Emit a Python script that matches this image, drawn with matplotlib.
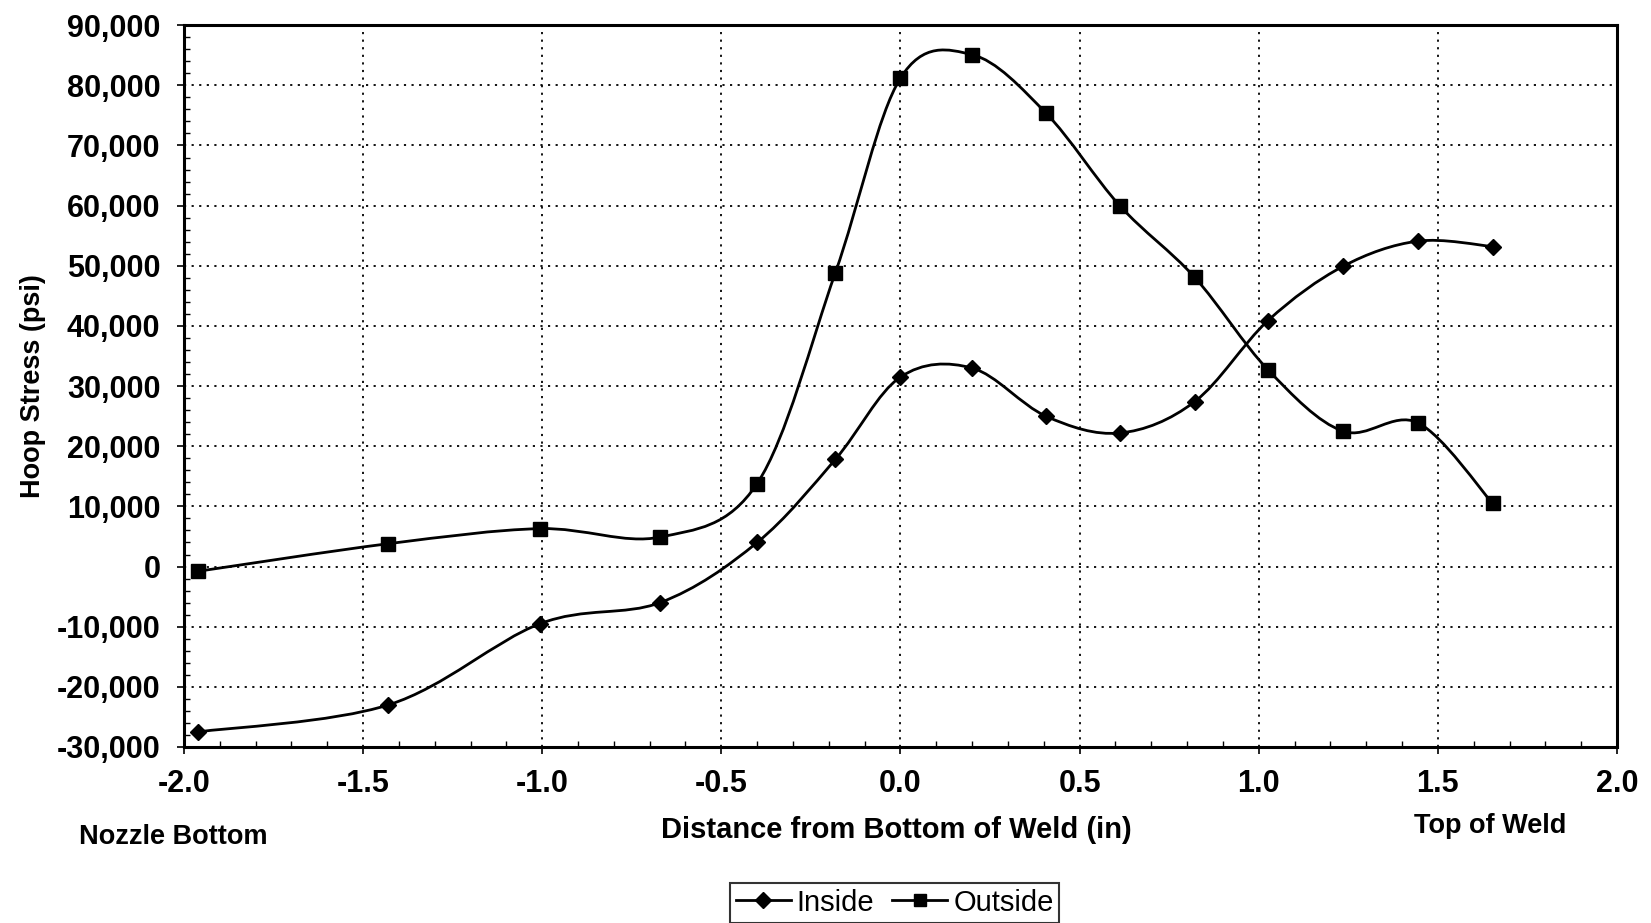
"""
Hoop stress along the weld, inside vs outside surface.
"""

import numpy as np
import matplotlib
matplotlib.use('Agg')
import matplotlib.pyplot as plt
from matplotlib.path import Path
from matplotlib.patches import PathPatch
from matplotlib.lines import Line2D
from matplotlib.ticker import MultipleLocator, FuncFormatter

plt.rcParams['font.family'] = ['Liberation Sans', 'DejaVu Sans']
plt.rcParams['axes.unicode_minus'] = False

# Data
distance = [-1.962, -1.429, -1.006, -0.671, -0.400, -0.182, 0.000, 0.200,
            0.406, 0.612, 0.821, 1.026, 1.235, 1.444, 1.653]
inside = [-27500, -23000, -9500, -6000, 4000, 17800, 31500, 33000,
          25000, 22200, 27400, 40900, 49900, 54100, 53200]
outside = [-800, 3800, 6300, 4900, 13800, 48800, 81200, 85100,
           75400, 60000, 48100, 32700, 22500, 23900, 10500]

x_ticks = [-2.0, -1.5, -1.0, -0.5, 0.0, 0.5, 1.0, 1.5, 2.0]
y_ticks = list(range(-30000, 90001, 10000))


def smooth_path(xs, ys):
    """Excel-style smoothed line: cubic Bezier through each point."""
    xs = np.asarray(xs, float)
    ys = np.asarray(ys, float)
    n = len(xs)
    verts = [(xs[0], ys[0])]
    codes = [Path.MOVETO]
    for i in range(n - 1):
        p0 = (xs[max(i - 1, 0)], ys[max(i - 1, 0)])
        p1 = (xs[i], ys[i])
        p2 = (xs[i + 1], ys[i + 1])
        p3 = (xs[min(i + 2, n - 1)], ys[min(i + 2, n - 1)])
        c1 = (p1[0] + (p2[0] - p0[0]) / 6, p1[1] + (p2[1] - p0[1]) / 6)
        c2 = (p2[0] - (p3[0] - p1[0]) / 6, p2[1] - (p3[1] - p1[1]) / 6)
        verts += [c1, c2, p2]
        codes += [Path.CURVE4] * 3
    return Path(verts, codes)


fig = plt.figure(figsize=(16.51, 9.23), dpi=100)
ax = fig.add_axes([0.1114, 0.1907, 0.868, 0.782])

for ys, marker, ms in [(inside, 'D', 8), (outside, 's', 10)]:
    ax.add_patch(PathPatch(smooth_path(distance, ys), facecolor='none',
                           edgecolor='black', linewidth=2.0, zorder=3))
    ax.plot(distance, ys, linestyle='none', marker=marker, markersize=ms,
            color='black', zorder=4)

ax.set_xlim(-2.0, 2.0)
ax.set_ylim(-30000, 90000)
ax.set_xticks(x_ticks)
ax.set_yticks(y_ticks)
ax.xaxis.set_major_formatter(FuncFormatter(lambda v, p: f'{v:.1f}'))
ax.yaxis.set_major_formatter(FuncFormatter(lambda v, p: f'{v:,.0f}'))
ax.xaxis.set_minor_locator(MultipleLocator(0.1))
ax.yaxis.set_minor_locator(MultipleLocator(2000))

ax.grid(True, which='major', color='black', linestyle=(0, (1.2, 3.0)), linewidth=1.3)
ax.tick_params(which='major', direction='out', length=5, width=1.2,
               labelsize=22)
ax.tick_params(which='minor', direction='in', length=4, width=1)
ax.tick_params(axis='x', which='major', pad=11)
ax.tick_params(axis='y', which='major', pad=12)
for lbl in ax.get_xticklabels() + ax.get_yticklabels():
    lbl.set_fontweight('bold')
for s in ax.spines.values():
    s.set_linewidth(2.2)
    s.set_color('black')

ax.set_ylabel('Hoop Stress (psi)', fontsize=19.5, fontweight='bold')
ax.yaxis.set_label_coords(-0.096, 0.5)
fig.text(0.5427, 0.101, 'Distance from Bottom of Weld (in)', ha='center',
         va='center', fontsize=21, fontweight='bold')
fig.text(0.048, 0.093, 'Nozzle Bottom', ha='left', va='center',
         fontsize=19.5, fontweight='bold')
fig.text(0.9025, 0.105, 'Top of Weld', ha='center', va='center',
         fontsize=19.5, fontweight='bold')

handles = [Line2D([], [], color='black', linewidth=2, marker='D', markersize=8),
           Line2D([], [], color='black', linewidth=2, marker='s', markersize=9)]
leg = fig.legend(handles, ['Inside', 'Outside'], loc='upper center',
                 bbox_to_anchor=(0.5418, 0.0435), ncol=2, fontsize=21,
                 frameon=True, fancybox=False, edgecolor='black',
                 handlelength=1.9, handletextpad=0.2, columnspacing=0.6,
                 borderpad=0.2, borderaxespad=0)
leg.get_frame().set_linewidth(1.5)

fig.savefig('out.png', dpi=100, facecolor='white')
